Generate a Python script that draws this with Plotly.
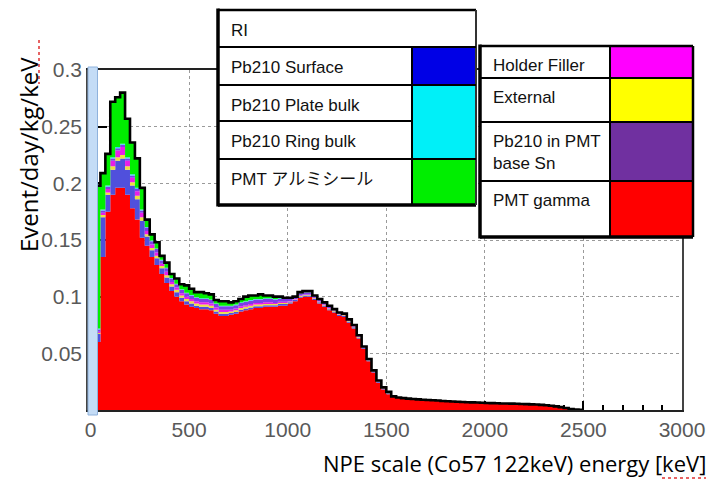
import plotly.graph_objects as go
import numpy as np

# ---------------- data (Event/day/kg/keV, 25 keV bins starting at 25 keV) ----------------
BIN_START_KEV = 25
BIN_WIDTH_KEV = 25

pmt_gamma = [
    0.060, 0.135, 0.175, 0.190, 0.196, 0.196, 0.190, 0.178, 0.168, 0.152,
    0.145, 0.135, 0.128, 0.120, 0.112, 0.105, 0.100, 0.096, 0.093, 0.091,
    0.090, 0.089, 0.089, 0.088, 0.085, 0.083, 0.083, 0.084, 0.085, 0.087,
    0.088, 0.089, 0.090, 0.090, 0.091, 0.091, 0.091, 0.092, 0.092, 0.094,
    0.096, 0.099, 0.100, 0.100, 0.097, 0.094, 0.091, 0.088, 0.086, 0.083,
    0.082, 0.077, 0.072, 0.063, 0.054, 0.043, 0.033, 0.024, 0.018, 0.014,
    0.012, 0.011, 0.0105, 0.010, 0.0097, 0.0094, 0.0091, 0.0088, 0.0086, 0.0084,
    0.0080, 0.0077, 0.0075, 0.0073, 0.0071, 0.0069, 0.0067, 0.0066, 0.0064, 0.0062,
    0.0061, 0.0060, 0.0058, 0.0057, 0.0056, 0.0055, 0.0053, 0.0052, 0.0050, 0.0048,
    0.0045, 0.0042, 0.0038, 0.0032, 0.0025, 0.0017, 0.0009, 0.0003, 0.0001,
]

pb210_surface = [
    0.007, 0.035, 0.015, 0.022, 0.024, 0.026, 0.022, 0.020, 0.018, 0.015,
    0.008, 0.006, 0.006, 0.005, 0.005, 0.004, 0.004, 0.003, 0.003, 0.003,
    0.002, 0.002, 0.002, 0.002, 0.002, 0.002, 0.002, 0.0015, 0.0015, 0.0015,
    0.0015, 0.0015, 0.0015, 0.0015, 0.0015, 0.0015, 0.0015, 0.0015, 0.0015, 0.001,
    0.001, 0.001, 0.001, 0.001, 0.001, 0.001, 0.001, 0.001, 0.001, 0.001,
    0.001, 0.001, 0.001, 0.001, 0.0008, 0.0008, 0.0008, 0.0008, 0.0008, 0.0008,
]

external = [
    0.001, 0.002, 0.002, 0.003, 0.003, 0.003, 0.003, 0.003, 0.003, 0.003,
    0.002, 0.002, 0.002, 0.002, 0.002, 0.002, 0.002, 0.002, 0.002, 0.002,
    0.002, 0.002, 0.002, 0.002, 0.0015, 0.0015, 0.0015, 0.0015, 0.0015, 0.0015,
    0.0015, 0.0015, 0.0015, 0.0015, 0.001, 0.001, 0.001, 0.001, 0.001, 0.0005,
    0.0005, 0.0005, 0.0005, 0.0005, 0.0005, 0.0005, 0.0005, 0.0005, 0.0005, 0.0005,
    0.0005, 0.0005, 0.0005, 0.0005, 0.0003, 0.0003, 0.0003, 0.0003, 0.0003, 0.0003,
]

holder_filler = [
    0.001, 0.002, 0.003, 0.005, 0.006, 0.007, 0.005, 0.004, 0.004, 0.004,
    0.003, 0.003, 0.003, 0.002, 0.003, 0.002, 0.002, 0.002, 0.002, 0.002,
    0.002, 0.002, 0.002, 0.002, 0.002, 0.002, 0.002, 0.0015, 0.0015, 0.0015,
    0.0015, 0.0015, 0.0015, 0.0015, 0.0015, 0.0015, 0.001, 0.001, 0.001, 0.0005,
    0.0005, 0.0005, 0.0005, 0.0005, 0.0005, 0.0005, 0.0005, 0.0005, 0.0005, 0.0005,
    0.0005, 0.0005, 0.0005, 0.0005, 0.0002, 0.0002, 0.0002, 0.0002, 0.0002, 0.0002,
]

pb210_base_sn = [
    0.002, 0.002, 0.002, 0.002, 0.002, 0.002, 0.002, 0.002, 0.002, 0.002,
    0.003, 0.003, 0.003, 0.003, 0.003, 0.003, 0.003, 0.003, 0.003, 0.003,
    0.003, 0.003, 0.003, 0.003, 0.003, 0.003, 0.003, 0.003, 0.003, 0.003,
    0.003, 0.003, 0.003, 0.003, 0.003, 0.003, 0.003, 0.0025, 0.0025, 0.002,
    0.0015, 0.002, 0.002, 0.002, 0.0015, 0.0015, 0.0015, 0.0015, 0.001, 0.001,
    0.001, 0.001, 0.001, 0.001, 0.0007, 0.0007, 0.0007, 0.0007, 0.0007, 0.0007,
]

pb210_bulk = [
    0.001, 0.001, 0.001, 0.001, 0.001, 0.001, 0.001, 0.001, 0.001, 0.001,
    0.0005, 0.0005, 0.0005, 0.0005, 0.0005, 0.0005, 0.0005, 0.0005, 0.0005, 0.0005,
    0.0005, 0.0005, 0.0005, 0.0005, 0.0005, 0.0005, 0.0005, 0.0005, 0.0005, 0.0005,
    0.0005, 0.0005, 0.0005, 0.0005, 0.0005, 0.0005, 0.0005, 0.0005, 0.0005, 0.0005,
    0.0, 0.0, 0.0, 0.0, 0.0, 0.0, 0.0, 0.0, 0.0, 0.0,
    0.0, 0.0, 0.0, 0.0, 0.0, 0.0, 0.0, 0.0, 0.0, 0.0,
]

pmt_al_seal = [
    0.126, 0.032, 0.028, 0.049, 0.044, 0.045, 0.034, 0.028, 0.026, 0.019,
    0.0065, 0.0055, 0.0055, 0.0035, 0.0045, 0.0035, 0.0045, 0.0045, 0.0065, 0.0055,
    0.0045, 0.0055, 0.0045, 0.0045, 0.003, 0.004, 0.004, 0.003, 0.003, 0.003,
    0.004, 0.004, 0.003, 0.004, 0.0025, 0.0025, 0.002, 0.0015, 0.0005, 0.0005,
    0.0005, 0.001, 0.001, 0.001, 0.0005, 0.0005, 0.0005, 0.0005, 0.0, 0.0,
    0.0, 0.0, 0.0, 0.0, 0.0, 0.0, 0.0, 0.0, 0.0, 0.0,
]

x_tick_vals = [0, 500, 1000, 1500, 2000, 2500, 3000]
x_tick_text = ["0", "500", "1000", "1500", "2000", "2500", "3000"]
y_tick_vals = [0.05, 0.1, 0.15, 0.2, 0.25, 0.3]
y_tick_text = ["0.05", "0.1", "0.15", "0.2", "0.25", "0.3"]

legend_box1 = [("Pb210 Surface", "#0000e6"), ("Pb210 Plate bulk", "#00f0f8"),
               ("Pb210 Ring bulk", "#00f0f8"), ("PMT アルミシール", "#00ee00")]
legend_box2 = [("Holder Filler", "#ff00ff"), ("External", "#ffff00"),
               ("Pb210 in PMT<br>base Sn", "#7030a0"), ("PMT gamma", "#ff0000")]

# ---------------- build ----------------
n = len(pmt_gamma)
edges = BIN_START_KEV + BIN_WIDTH_KEV * np.arange(n + 1)

def pad(a):
    a = np.asarray(a, dtype=float)
    return np.concatenate([a, np.zeros(n - len(a))])

layers = [
    ("PMT gamma", pmt_gamma, "#ff0000"),
    ("Pb210 Surface", pb210_surface, "#5050dc"),
    ("External", external, "#ece040"),
    ("Holder Filler", holder_filler, "#e81ee8"),
    ("Pb210 in PMT base Sn", pb210_base_sn, "#7e3ee6"),
    ("Pb210 bulk", pb210_bulk, "#30d8f0"),
    ("PMT アルミシール", pmt_al_seal, "#00ee00"),
]

fig = go.Figure()
total = np.zeros(n)
for name, vals, col in layers:
    v = pad(vals)
    total += v
    fig.add_trace(go.Scatter(
        x=edges, y=np.append(v, v[-1]), name=name, stackgroup="s",
        mode="lines", line=dict(shape="hv", width=0, color=col),
        fillcolor=col, hoverinfo="skip"))

fig.add_trace(go.Scatter(
    x=np.concatenate([[edges[0]], edges]), y=np.concatenate([[0], total, [total[-1]]]),
    mode="lines", line=dict(shape="hv", width=2.6, color="black"), hoverinfo="skip"))

W, H = 710, 480
L, R, T, B = 88, 28, 70, 70
PW, PH = W - L - R, H - T - B

def px(x):
    return (x - L) / PW

def py(y):
    return (H - B - y) / PH

shapes = []
annots = []

def rect(x0, y0, x1, y1, fill, lw=0, lc="black"):
    shapes.append(dict(type="rect", xref="paper", yref="paper", layer="above",
                       x0=px(x0), x1=px(x1), y0=py(y1), y1=py(y0),
                       fillcolor=fill, line=dict(width=lw, color=lc)))

def line(x0, y0, x1, y1, lw=2, lc="black", dash="solid"):
    shapes.append(dict(type="line", xref="paper", yref="paper", layer="above",
                       x0=px(x0), x1=px(x1), y0=py(y0), y1=py(y1),
                       line=dict(width=lw, color=lc, dash=dash)))

def text(x, y, s, size=17):
    annots.append(dict(xref="paper", yref="paper", x=px(x), y=py(y), text=s,
                       showarrow=False, xanchor="left", yanchor="top", align="left",
                       font=dict(family="Arial, Liberation Sans, Noto Sans CJK JP", size=size, color="#111")))

# light blue strip at the left edge
rect(88, 67, 97.5, 415, "#c4dcf6", 1, "#8fb2dc")

# legend box 1
bx0, bx1, dv = 218, 476, 412
rows1 = [47, 85, 121, 159, 205]
rect(bx0, 10, bx1, 205, "white", 0)
rect(dv, rows1[0], bx1, rows1[1], legend_box1[0][1])
rect(dv, rows1[1], bx1, rows1[3], legend_box1[1][1])
rect(dv, rows1[3], bx1, rows1[4], legend_box1[3][1])
line(bx0, 10, bx1, 10, 2.5)
line(bx0, 8.5, bx0, 206.5, 3.5)
line(bx0, 205, bx1, 205, 3.5)
line(bx1, 10, bx1, 205, 2, "#333")
line(dv, 47, dv, 205, 2)
for yy in (47, 85, 159):
    line(bx0, yy, bx1, yy, 2)
line(bx0, 121, dv, 121, 2)
text(229, 19, "RI")
for (lab, _), top in zip(legend_box1, rows1[:-1]):
    text(229, top + 9, lab)

# legend box 2
cx0, cx1, dv2 = 480, 693, 610
rows2 = [46, 78, 122, 181, 237]
rect(cx0, rows2[0], cx1, rows2[-1], "white", 0)
for (lab, col), y0, y1 in zip(legend_box2, rows2[:-1], rows2[1:]):
    rect(dv2, y0, cx1, y1, col)
    text(491, y0 + 8, lab)
line(cx0, 46, cx1, 46, 2.5)
line(cx0, 44.5, cx0, 238.5, 3.5)
line(cx0, 237, cx1, 237, 3.5)
line(cx1, 46, cx1, 237, 2.5)
line(dv2, 46, dv2, 237, 2)
for yy in rows2[1:-1]:
    line(cx0, yy, cx1, yy, 2)

# axis titles
annots.append(dict(xref="paper", yref="paper", x=px(28), y=py(155), text="Event/day/kg/keV",
                   textangle=-90, showarrow=False, xanchor="center", yanchor="middle",
                   font=dict(family="Open Sans", size=24, color="black")))
annots.append(dict(xref="paper", yref="paper", x=px(708), y=py(463),
                   text="NPE scale (Co57 122keV) energy [keV]",
                   showarrow=False, xanchor="right", yanchor="middle",
                   font=dict(family="Open Sans", size=22, color="black")))
# spell-check squiggles
line(39, 40, 39, 84, 1.5, "#e03030", "dot")
line(662, 478, 706, 478, 1.5, "#e03030", "dot")

tickfont = dict(family="Arial, Liberation Sans", size=21, color="#595959")
grid = dict(showgrid=True, gridcolor="#9a9a9a", griddash="dot", gridwidth=1, zeroline=False)

fig.update_layout(
    width=W, height=H, margin=dict(l=L, r=R, t=T, b=B, autoexpand=False),
    paper_bgcolor="white", plot_bgcolor="white", showlegend=False,
    shapes=shapes, annotations=annots,
    xaxis=dict(range=[-13, 3000], tickvals=x_tick_vals, ticktext=x_tick_text,
               ticks="inside", ticklen=9, tickwidth=1.5, tickcolor="black",
               showline=True, linecolor="#222", linewidth=1.5, mirror=True,
               tickfont=tickfont, layer="below traces", automargin=False,
               minor=dict(dtick=100, tick0=0, ticks="inside", ticklen=5, tickwidth=1.5,
                          tickcolor="black", showgrid=False),
               **grid),
    yaxis=dict(range=[0, 0.3], tickvals=y_tick_vals, ticktext=y_tick_text,
               ticks="inside", ticklen=19, tickwidth=2, tickcolor="black",
               showline=True, linecolor="#444", linewidth=1.5, mirror=True,
               tickfont=tickfont, layer="below traces", ticklabelstandoff=0,
               automargin=False, **grid),
)

fig.write_html("out.html")
